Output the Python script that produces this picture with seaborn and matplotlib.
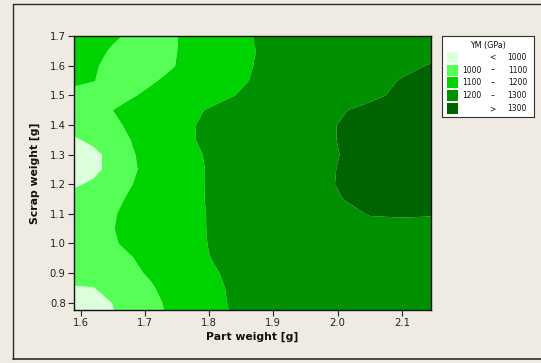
import numpy as np
import matplotlib
matplotlib.use("Agg")
import matplotlib.pyplot as plt
import seaborn as sns
from matplotlib.colors import ListedColormap, BoundaryNorm
from matplotlib.patches import Rectangle
from matplotlib.lines import Line2D

# ---- data ----
part_weight = [1.585, 1.62, 1.65, 1.68, 1.71, 1.74, 1.77, 1.80, 1.83, 1.87,
               1.93, 1.99, 2.05, 2.10, 2.15]
scrap_weight = [0.77, 0.80, 0.85, 0.90, 0.95, 1.00, 1.05, 1.10, 1.15, 1.20,
                1.25, 1.30, 1.35, 1.40, 1.45, 1.50, 1.55, 1.60, 1.65, 1.705]
ym_0776 = [965, 981, 997, 1034, 1075, 1112, 1141, 1170, 1199, 1212, 1227, 1239, 1250, 1256, 1259]
ym_0800 = [970, 985, 1001, 1041, 1080, 1115, 1144, 1173, 1202, 1214, 1229, 1241, 1252, 1258, 1261]
ym_0850 = [994, 998, 1030, 1062, 1094, 1123, 1152, 1181, 1204, 1216, 1231, 1244, 1255, 1262, 1265]
ym_0900 = [1030, 1049, 1068, 1087, 1109, 1137, 1164, 1192, 1207, 1219, 1234, 1247, 1258, 1265, 1268]
ym_0950 = [1050, 1066, 1082, 1098, 1123, 1148, 1174, 1199, 1210, 1222, 1238, 1252, 1263, 1270, 1273]
ym_1000 = [1060, 1077, 1094, 1114, 1136, 1158, 1180, 1202, 1212, 1225, 1243, 1258, 1270, 1276, 1278]
ym_1050 = [1060, 1079, 1098, 1119, 1140, 1161, 1183, 1203, 1214, 1228, 1248, 1266, 1282, 1285, 1285]
ym_1100 = [1050, 1073, 1095, 1118, 1140, 1162, 1184, 1203, 1215, 1230, 1254, 1277, 1303, 1305, 1303]
ym_1150 = [1025, 1055, 1084, 1111, 1135, 1160, 1184, 1205, 1219, 1237, 1265, 1293, 1316, 1326, 1330]
ym_1200 = [985, 1014, 1056, 1099, 1127, 1155, 1182, 1205, 1220, 1240, 1269, 1298, 1318, 1328, 1332]
ym_1250 = [950, 978, 1029, 1090, 1124, 1153, 1182, 1205, 1220, 1239, 1268, 1297, 1320, 1332, 1337]
ym_1300 = [955, 975, 1031, 1094, 1127, 1156, 1186, 1207, 1221, 1240, 1267, 1295, 1318, 1330, 1335]
ym_1350 = [982, 1022, 1062, 1103, 1133, 1164, 1195, 1211, 1225, 1243, 1270, 1297, 1318, 1328, 1332]
ym_1400 = [1040, 1064, 1087, 1113, 1140, 1168, 1195, 1211, 1225, 1243, 1270, 1297, 1318, 1328, 1332]
ym_1450 = [1075, 1085, 1100, 1122, 1143, 1165, 1186, 1205, 1219, 1237, 1264, 1291, 1312, 1322, 1326]
ym_1500 = [1090, 1085, 1082, 1095, 1115, 1135, 1155, 1175, 1195, 1214, 1239, 1264, 1290, 1310, 1318]
ym_1550 = [1108, 1101, 1090, 1085, 1093, 1114, 1136, 1158, 1180, 1205, 1231, 1256, 1282, 1303, 1312]
ym_1600 = [1118, 1104, 1090, 1082, 1082, 1094, 1119, 1143, 1168, 1201, 1224, 1246, 1269, 1288, 1305]
ym_1650 = [1125, 1110, 1096, 1088, 1086, 1093, 1113, 1138, 1164, 1198, 1238, 1262, 1275, 1282, 1285]
ym_1700 = [1130, 1118, 1106, 1095, 1088, 1093, 1111, 1138, 1165, 1202, 1235, 1258, 1270, 1277, 1278]

levels = [900, 1000, 1100, 1200, 1300, 1400]
level_colors = ["#DCFFDC", "#55FF55", "#00D400", "#009000", "#006400"]
legend_title = "YM (GPa)"
legend_low = ["", "1000", "1100", "1200", ""]
legend_sep = ["<", "\u2013", "\u2013", "\u2013", ">"]
legend_high = ["1000", "1100", "1200", "1300", "1300"]
x_ticks = [1.6, 1.7, 1.8, 1.9, 2.0, 2.1]
y_ticks = [0.8, 0.9, 1.0, 1.1, 1.2, 1.3, 1.4, 1.5, 1.6, 1.7]

# ---- styling ----
sns.set_theme(style="white")
plt.rcParams['font.family'] = ['DejaVu Sans']
bg = "#EFEBE2"

W, H = 541, 363
fig = plt.figure(figsize=(W / 100, H / 100), dpi=100, facecolor=bg)

def px_box(l, t, r, b):
    return [l / W, 1 - b / H, (r - l) / W, (b - t) / H]

# outer frame
frame_col = "#2b2b2b"
fig.add_artist(Line2D([13 / W, 13 / W], [1 - 359 / H, 1 - 4.3 / H], color=frame_col, lw=1.0))
fig.add_artist(Line2D([13 / W, 1.0], [1 - 4.3 / H, 1 - 4.3 / H], color=frame_col, lw=1.0))
fig.add_artist(Line2D([13 / W, 1.0], [1 - 359 / H, 1 - 359 / H], color=frame_col, lw=1.2))

ax = fig.add_axes(px_box(74, 36.3, 430.7, 309.5))
Z = np.array([ym_0776, ym_0800, ym_0850, ym_0900, ym_0950, ym_1000, ym_1050,
              ym_1100, ym_1150, ym_1200, ym_1250, ym_1300, ym_1350, ym_1400,
              ym_1450, ym_1500, ym_1550, ym_1600, ym_1650, ym_1700])
X, Y = np.meshgrid(part_weight, scrap_weight)
cmap = ListedColormap(level_colors)
norm = BoundaryNorm(levels, cmap.N)
ax.contourf(X, Y, Z, levels=levels, cmap=cmap, norm=norm, antialiased=True)
ax.set_xlim(1.5896, 2.145)
ax.set_ylim(0.777, 1.7)
ax.set_xticks(x_ticks)
ax.set_xticklabels([f"{v:.1f}" for v in x_ticks])
ax.set_yticks(y_ticks)
ax.set_yticklabels([f"{v:.1f}" for v in y_ticks])
for s in ax.spines.values():
    s.set_visible(True)
    s.set_color("#111111")
    s.set_linewidth(1.0)
ax.tick_params(axis="both", direction="out", length=4.5, width=0.8,
               colors="#222222", labelsize=7.2, pad=1.5)
ax.tick_params(axis="both", which="both", bottom=True, left=True, top=False, right=False)
ax.set_xlabel("Part weight [g]", fontsize=7.8, fontweight="bold", color="#111111", labelpad=3)
ax.set_ylabel("Scrap weight [g]", fontsize=7.8, fontweight="bold", color="#111111", labelpad=7)
ax.grid(False)

# ---- legend (drawn in its own pixel-like axes) ----
lg = fig.add_axes(px_box(442, 36, 534, 116.7))
lg.set_xlim(442, 534)
lg.set_ylim(116.7, 36)
lg.set_xticks([])
lg.set_yticks([])
lg.set_facecolor("white")
for s in lg.spines.values():
    s.set_visible(True)
    s.set_color("#333333")
    s.set_linewidth(0.8)
lg.text(488, 45.5, legend_title, ha="center", va="center", fontsize=5.8, color="#111111")
row_y = [57, 70, 82.5, 95.5, 108.5]
for i in range(5):
    yc = row_y[i]
    lg.add_patch(Rectangle((446.7, yc - 5.5), 11, 11, facecolor=level_colors[i], edgecolor="none"))
    if legend_low[i]:
        lg.text(481.5, yc, legend_low[i], ha="right", va="center", fontsize=5.5, color="#111111")
    lg.text(492.5, yc, legend_sep[i], ha="center", va="center", fontsize=5.5, color="#111111")
    lg.text(527, yc, legend_high[i], ha="right", va="center", fontsize=5.5, color="#111111")

fig.savefig("out.png", dpi=100, facecolor=bg)
